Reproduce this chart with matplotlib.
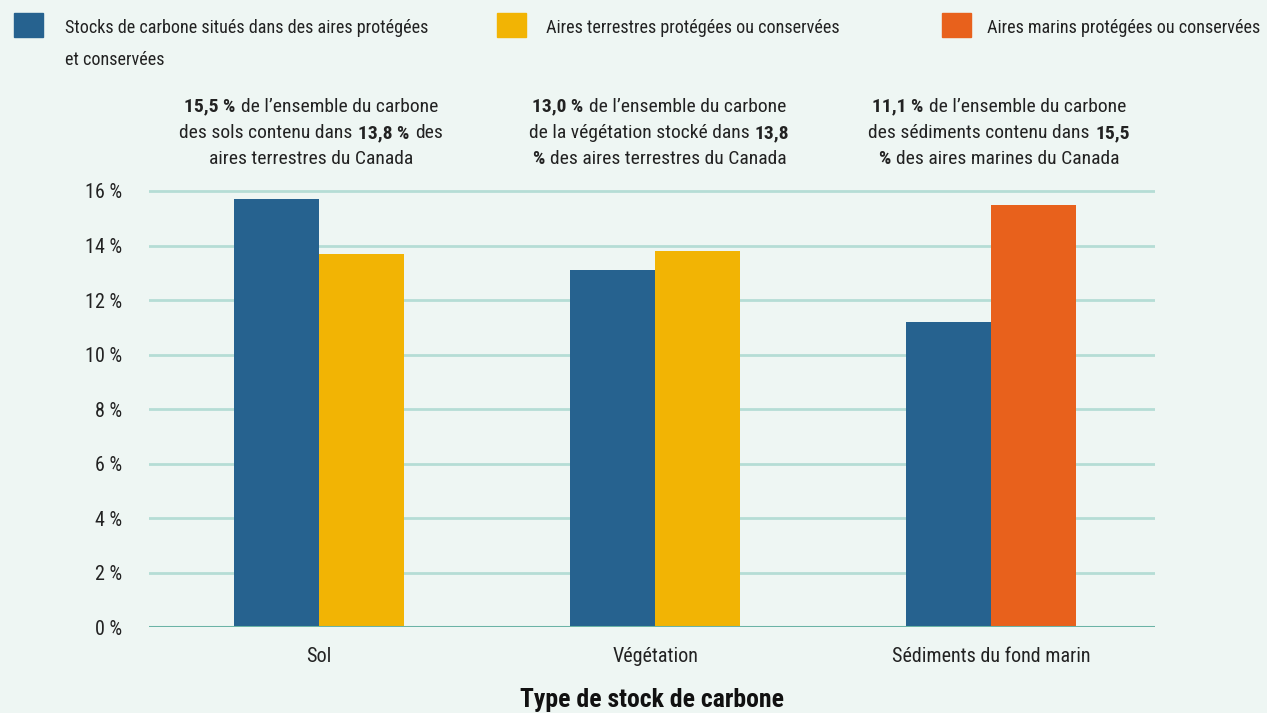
import matplotlib
matplotlib.use("Agg")
import matplotlib.pyplot as plt
from matplotlib.offsetbox import TextArea, HPacker, VPacker, AnnotationBbox
from matplotlib import font_manager as fm
import numpy as np
import os

categories = ["Sol", "Végétation", "Sédiments du fond marin"]
carbon_share = [15.7, 13.1, 11.2]          # blue: stocks de carbone dans aires protégées
area_share = [13.7, 13.8, 15.5]            # yellow (terrestre) / orange (marin)
area_kind = ["terrestre", "terrestre", "marin"]
yticks = [0, 2, 4, 6, 8, 10, 12, 14, 16]
ytick_labels = [f"{v} %" for v in yticks]

legend_labels = ["Stocks de carbone situés dans des aires protégées\net conservées",
                 "Aires terrestres protégées ou conservées",
                 "Aires marins protégées ou conservées"]

annotations = [
    [[("15,5 %", True), ("de l’ensemble du carbone", False)],
     [("des sols contenu dans", False), ("13,8 %", True), ("des", False)],
     [("aires terrestres du Canada", False)]],
    [[("13,0 %", True), ("de l’ensemble du carbone", False)],
     [("de la végétation stocké dans", False), ("13,8", True)],
     [("%", True), ("des aires terrestres du Canada", False)]],
    [[("11,1 %", True), ("de l’ensemble du carbone", False)],
     [("des sédiments contenu dans", False), ("15,5", True)],
     [("%", True), ("des aires marines du Canada", False)]],
]


# ---- pick a condensed font if one is installed ----
def find_condensed(bold):
    files = [f.fname for f in fm.fontManager.ttflist]
    prefs = ["RobotoCondensed", "LiberationSansNarrow", "NotoSans-Condensed",
             "OpenSans_Condensed", "OpenSansCondensed", "DejaVuSansCondensed"]
    for p in prefs:
        for f in sorted(files):
            b = os.path.basename(f)
            bn = b.replace("-", "").replace("_", "").lower()
            if not bn.startswith(p.replace("-", "").replace("_", "").lower()):
                continue
            low = b.lower()
            if "italic" in low or "oblique" in low:
                continue
            is_bold = "bold" in low and "semibold" not in low and "extrabold" not in low
            is_plain = not any(w in low for w in ["bold", "light", "thin", "medium",
                                                   "black", "semi", "extra"])
            if bold and is_bold:
                return f
            if not bold and is_plain:
                return f
    return None


reg_path = find_condensed(False)
bold_path = find_condensed(True)
if reg_path and bold_path:
    FP = lambda size: fm.FontProperties(fname=reg_path, size=size)
    FPB = lambda size: fm.FontProperties(fname=bold_path, size=size)
    base = 13.5
    condensed = True
else:
    FP = lambda size: fm.FontProperties(family="Liberation Sans", size=size)
    FPB = lambda size: fm.FontProperties(family="Liberation Sans", weight="bold", size=size)
    base = 11.5
    condensed = False

BG = "#EEF6F3"
BLUE = "#26628F"
YELLOW = "#F2B404"
ORANGE = "#E8611C"
TXT = "#222222"
GRID = "#B5DDD5"
ZERO = "#6BB3A6"

W, H = 1267, 713
fig = plt.figure(figsize=(W / 100, H / 100), dpi=100, facecolor=BG)

ax_left, ax_right = 149 / W, 1155 / W
y0 = 627.3
ppu = 27.27
ymax = 16.5
ax = fig.add_axes([ax_left, 1 - y0 / H, ax_right - ax_left, ymax * ppu / H])
ax.set_facecolor(BG)

x = np.arange(len(categories))
bw = 0.253
ax.bar(x - bw / 2, carbon_share, width=bw, color=BLUE, zorder=3)
second_colors = [YELLOW if k == "terrestre" else ORANGE for k in area_kind]
ax.bar(x + bw / 2, area_share, width=bw, color=second_colors, zorder=3)

for v in yticks[1:]:
    ax.axhline(v, color=GRID, lw=2.0, zorder=1)
ax.axhline(0, color=ZERO, lw=2.2, zorder=4)

ax.set_xlim(-0.506, 2.488)
ax.set_ylim(0, ymax)
ax.set_yticks(yticks)
ax.set_yticklabels(ytick_labels, fontproperties=FP(base + 1), color=TXT)
ax.set_xticks(x)
ax.set_xticklabels(categories, fontproperties=FP(base + 1), color=TXT)
ax.tick_params(axis='both', length=0)
ax.tick_params(axis='y', pad=19)
ax.tick_params(axis='x', pad=14)
for s in ax.spines.values():
    s.set_visible(False)

fig.text(652 / W, 1 - 707 / H, "Type de stock de carbone", fontproperties=FPB(base + 5),
         color="#111111", ha='center', va='baseline')

# Legend
leg_sq_x = [14, 497, 942]
leg_txt_x = [65, 546, 987]
leg_colors = [BLUE, YELLOW, ORANGE]
for sx, tx, c, lab in zip(leg_sq_x, leg_txt_x, leg_colors, legend_labels):
    fig.patches.append(plt.Rectangle((sx / W, 1 - 37 / H), 29 / W, 24 / H,
                                     transform=fig.transFigure, color=c, figure=fig))
    for i, line in enumerate(lab.split("\n")):
        fig.text(tx / W, 1 - (33 + 32 * i) / H, line, fontproperties=FP(base - 0.4),
                 color=TXT, va='baseline', ha='left')

# Annotations above groups
ann_cx = [311, 659, 999]
for cx, lines in zip(ann_cx, annotations):
    rows = []
    for line in lines:
        parts = [TextArea(t, textprops=dict(fontproperties=(FPB(base + 0.5) if b
                                                            else FP(base + 0.5)),
                                            color=TXT))
                 for t, b in line]
        rows.append(HPacker(children=parts, align="baseline", pad=0, sep=4))
    box = VPacker(children=rows, align="center", pad=0, sep=6 if condensed else 9)
    ab = AnnotationBbox(box, (cx / W, 1 - 133 / H), xycoords='figure fraction',
                        frameon=False, box_alignment=(0.5, 0.5), pad=0)
    fig.add_artist(ab)

fig.savefig("out.png", dpi=100, facecolor=BG)
